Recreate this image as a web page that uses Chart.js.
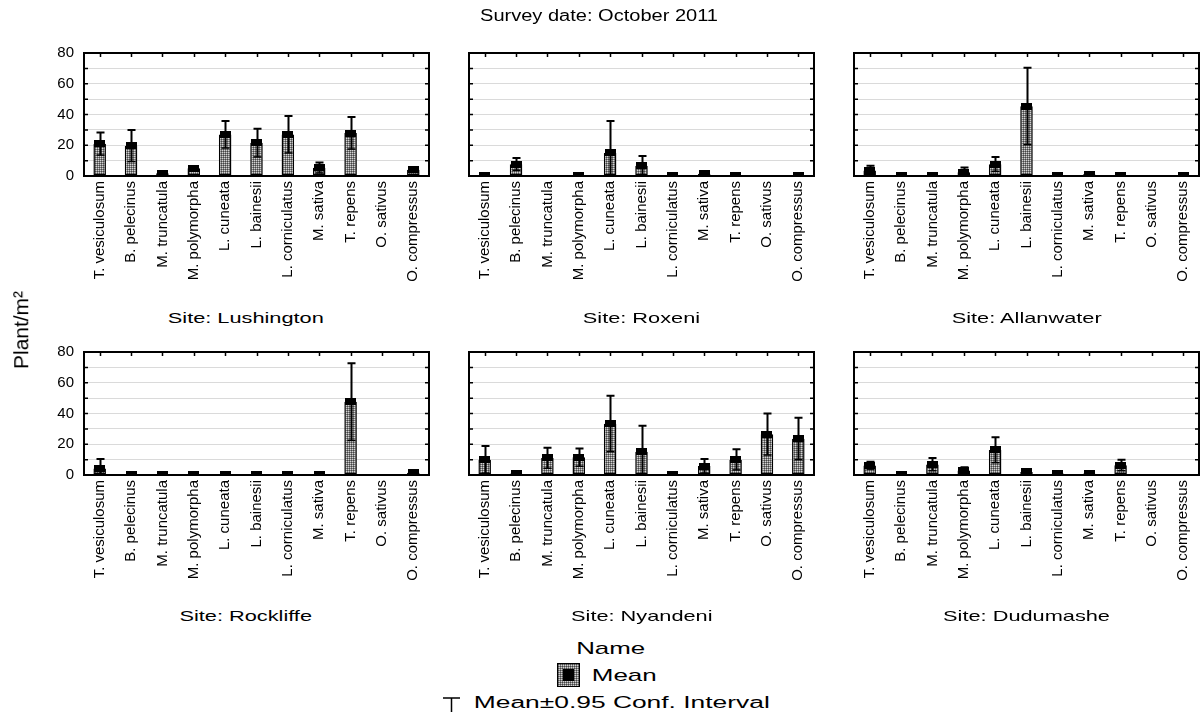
<!DOCTYPE html>
<html><head><meta charset="utf-8">
<script src="https://cdn.jsdelivr.net/npm/chart.js@4/dist/chart.umd.min.js"></script>
<style>
html,body{margin:0;padding:0;background:#fff;width:1200px;height:713px;overflow:hidden;position:relative;font-family:"Liberation Sans",Arial,sans-serif;color:#000}
canvas{position:absolute}
.t{position:absolute;white-space:nowrap;line-height:1;font-family:"Liberation Sans",Arial,sans-serif;color:#000}
</style></head><body>
<script>
// ---------- data ----------
const categories = ['T. vesiculosum','B. pelecinus','M. truncatula','M. polymorpha','L. cuneata','L. bainesii','L. corniculatus','M. sativa','T. repens','O. sativus','O. compressus'];
const siteNames = ['Lushington','Roxeni','Allanwater','Rockliffe','Nyandeni','Dudumashe'];
const yTickLabels = [0,20,40,60,80];

const meanLushington  = [21.0, 19.7, 1.8, 5.0, 27.0, 21.6, 27.0, 5.4, 27.9, null, 4.0];
const upperLushington = [28.3, 30.0, 2.6, 6.2, 35.8, 30.8, 39.0, 8.8, 38.3, null, 5.0];
const lowerLushington = [13.6,  9.4, 1.0, 3.8, 18.2, 12.4, 15.0, 2.0, 17.5, null, 3.0];

const meanRoxeni  = [0.5, 7.7, null, 0.5, 15.0, 6.7, 0.5, 1.5, 0.5, null, 0.5];
const upperRoxeni = [0.5, 11.7, null, 0.5, 35.8, 13.0, 0.5, 2.5, 0.5, null, 0.5];
const lowerRoxeni = [0.5, 3.7, null, 0.5, 0.0, 0.4, 0.5, 0.5, 0.5, null, 0.5];

const meanAllanwater  = [3.6, 0.5, 0.5, 2.5, 7.7, 45.4, 0.5, 1.2, 0.5, null, 0.5];
const upperAllanwater = [6.7, 0.5, 0.5, 5.6, 12.4, 70.4, 0.5, 2.0, 0.5, null, 0.5];
const lowerAllanwater = [0.5, 0.5, 0.5, 0.0, 3.0, 20.4, 0.5, 0.4, 0.5, null, 0.5];

const meanRockliffe  = [4.2, 0.5, 0.5, 0.5, 0.5, 0.5, 0.5, 0.5, 47.6, null, 1.5];
const upperRockliffe = [10.4, 0.5, 0.5, 0.5, 0.5, 0.5, 0.5, 0.5, 72.7, null, 2.0];
const lowerRockliffe = [0.0, 0.5, 0.5, 0.5, 0.5, 0.5, 0.5, 0.5, 22.5, null, 1.0];

const meanNyandeni  = [10.0, 1.0, 11.1, 11.5, 33.4, 15.2, 0.5, 5.8, 10.0, 26.5, 23.6];
const upperNyandeni = [18.8, 1.5, 17.8, 17.3, 51.6, 32.0, 1.0, 10.4, 16.7, 40.0, 37.2];
const lowerNyandeni = [1.2, 0.5, 4.4, 5.7, 15.2, 0.0, 0.0, 1.2, 3.3, 13.0, 10.0];

const meanDudumashe  = [6.2, 0.5, 6.9, 3.0, 16.3, 2.0, 1.0, 1.0, 6.4, null, null];
const upperDudumashe = [8.6, 0.5, 11.0, 5.0, 24.6, 2.5, 1.5, 1.5, 10.0, null, null];
const lowerDudumashe = [3.8, 0.5, 2.8, 1.0, 8.0, 1.5, 0.5, 0.5, 2.8, null, null];

const siteMeans  = [meanLushington, meanRoxeni, meanAllanwater, meanRockliffe, meanNyandeni, meanDudumashe];
const siteUppers = [upperLushington, upperRoxeni, upperAllanwater, upperRockliffe, upperNyandeni, upperDudumashe];
const siteLowers = [lowerLushington, lowerRoxeni, lowerAllanwater, lowerRockliffe, lowerNyandeni, lowerDudumashe];

// ---------- layout ----------
const FONT = '"Liberation Sans", Arial, sans-serif';
const PLOT_W = 345, PLOT_H = 128;
const colLeft = [84, 469, 854];
const rowTop = [48, 347];
const AX_W = 60, PAD_T = 14, PAD_R = 8, XL_H = 125;
const siteCenterX = [246, 641.5, 1027];
const siteCapY = [318.5, 616];

function makePattern(ctx){
  const c = document.createElement('canvas'); c.width = 4; c.height = 4;
  const x = c.getContext('2d');
  x.fillStyle = '#7e7e7e'; x.fillRect(0,0,4,4);
  x.fillStyle = '#d2d2d2'; x.fillRect(0,0,1,1); x.fillRect(2,2,1,1); x.fillRect(2,0,1,1); x.fillRect(0,2,1,1);
  x.fillStyle = '#444'; x.fillRect(1,1,1,1); x.fillRect(3,3,1,1); x.fillRect(3,1,1,1); x.fillRect(1,3,1,1);
  return ctx.createPattern(c, 'repeat');
}

function makeMarker(){
  const c = document.createElement('canvas'); c.width = 11; c.height = 7;
  const x = c.getContext('2d'); x.fillStyle = '#000'; x.fillRect(0,0,11,7);
  return c;
}

const errorBarPlugin = {
  id: 'errorBars',
  afterDatasetDraw(chart, args){
    if (args.meta.type !== 'bar') return;
    const o = chart.options.plugins.errorBars;
    const {ctx, chartArea: a, scales: {x, y}} = chart;
    ctx.save();
    ctx.beginPath(); ctx.rect(a.left, a.top, a.width, a.height); ctx.clip();
    ctx.strokeStyle = '#000'; ctx.lineWidth = 2;
    o.hi.forEach((h, i) => {
      if (h == null) return;
      const px = Math.round(x.getPixelForValue(i)) + 0.5;
      const yh = y.getPixelForValue(h), yl = y.getPixelForValue(o.lo[i]);
      ctx.beginPath();
      ctx.moveTo(px, yl); ctx.lineTo(px, yh);
      ctx.moveTo(px - 4, yh); ctx.lineTo(px + 4, yh);
      ctx.stroke();
      ctx.lineWidth = 1.5;
      ctx.beginPath(); ctx.moveTo(px - 4, yl); ctx.lineTo(px + 4, yl); ctx.stroke();
      ctx.lineWidth = 2;
    });
    ctx.restore();
  }
};

const framePlugin = {
  id: 'frame',
  afterDraw(chart){
    const {ctx, chartArea: a, scales: {x, y}} = chart;
    ctx.save();
    ctx.strokeStyle = '#000';
    ctx.lineWidth = 1.5;
    ctx.beginPath();
    categories.forEach((c, i) => {
      const px = Math.round(x.getPixelForValue(i)) + 0.5;
      ctx.moveTo(px, a.top); ctx.lineTo(px, a.top + 4);
    });
    y.ticks.forEach(t => {
      const py = y.getPixelForValue(t.value);
      ctx.moveTo(a.left, py); ctx.lineTo(a.left + 4, py);
      ctx.moveTo(a.right, py); ctx.lineTo(a.right - 4, py);
    });
    ctx.stroke();
    ctx.lineWidth = 2;
    ctx.strokeRect(a.left, a.top, a.width, a.height);
    ctx.restore();
  }
};

const marker = makeMarker();

siteNames.forEach((site, k) => {
  const col = k % 3, row = Math.floor(k / 3);
  const cv = document.createElement('canvas');
  const W = AX_W + PLOT_W + PAD_R, H = PAD_T + PLOT_H + XL_H;
  cv.width = W; cv.height = H;
  cv.style.left = (colLeft[col] - AX_W) + 'px';
  cv.style.top = (rowTop[row] - PAD_T) + 'px';
  cv.style.width = W + 'px'; cv.style.height = H + 'px';
  document.body.appendChild(cv);
  const ctx = cv.getContext('2d');
  const showY = col === 0;
  new Chart(ctx, {
    data: {
      labels: categories,
      datasets: [
        {type: 'bar', label: 'Mean', data: siteMeans[k], backgroundColor: makePattern(ctx),
         borderColor: '#000', borderWidth: 1.5, borderSkipped: false, barPercentage: 0.4,
         categoryPercentage: 1, order: 2},
        {type: 'line', label: 'Mean marker', data: siteMeans[k], showLine: false,
         pointStyle: marker, pointRadius: 6, pointHoverRadius: 6, order: 1}
      ]
    },
    options: {
      responsive: false, animation: false, devicePixelRatio: 1,
      layout: {padding: {top: PAD_T, right: PAD_R, left: 0, bottom: 0}},
      plugins: {legend: {display: false}, tooltip: {enabled: false},
        errorBars: {hi: siteUppers[k], lo: siteLowers[k]}},
      scales: {
        x: {type: 'category', offset: true,
            grid: {display: false, drawTicks: false}, border: {display: false},
            ticks: {autoSkip: false, maxRotation: 90, minRotation: 90, padding: 5, color: '#000',
                    font: {family: FONT, size: 15}},
            afterFit(s){ s.height = XL_H; }},
        y: {type: 'linear', min: 0, max: 80,
            grid: {color: '#dadada', lineWidth: 1, drawTicks: false}, border: {display: false},
            ticks: {stepSize: 10, autoSkip: false, padding: 10, color: '#000',
                    font: {family: FONT, size: 15},
                    callback: v => (showY && yTickLabels.includes(v)) ? String(v) : ''},
            afterFit(s){ s.width = AX_W; }}
      }
    },
    plugins: [errorBarPlugin, framePlugin]
  });
});

// ---------- text ----------
function addText(str, cx, capCy, size, targetW, rotate){
  const d = document.createElement('div');
  d.className = 't'; d.textContent = str; d.style.fontSize = size + 'px';
  document.body.appendChild(d);
  const w = d.getBoundingClientRect().width;
  const sx = targetW ? targetW / w : 1;
  d.style.left = (cx - w / 2) + 'px';
  d.style.top = (capCy - 0.55 * size) + 'px';
  d.style.transformOrigin = '50% 50%';
  d.style.transform = rotate ? `rotate(-90deg) scaleX(${sx})` : `scaleX(${sx})`;
  return sx;
}

addText('Survey date: October 2011', 599, 17, 16, 238);
addText('Plant/m²', 21, 331, 20, 78, true);
let siteScale = null;
siteNames.forEach((s, k) => {
  const col = k % 3, row = Math.floor(k / 3);
  const d = document.createElement('div');
  d.className = 't'; d.textContent = 'Site: ' + s; d.style.fontSize = '15px';
  document.body.appendChild(d);
  const w = d.getBoundingClientRect().width;
  if (siteScale === null) siteScale = 156 / w;
  d.style.left = (siteCenterX[col] - w / 2) + 'px';
  d.style.top = (siteCapY[row] - 0.55 * 15) + 'px';
  d.style.transform = `scaleX(${siteScale})`;
});
addText('Name', 611, 649, 17, 69);
addText('Mean', 624.5, 676, 17, 65);
addText('Mean±0.95 Conf. Interval', 622, 703.5, 16, 296);

// legend symbols
(function(){
  const c = document.createElement('canvas'); c.width = 23; c.height = 24;
  c.style.left = '557px'; c.style.top = '663px'; c.style.width = '23px'; c.style.height = '24px';
  document.body.appendChild(c);
  const x = c.getContext('2d');
  x.fillStyle = makePattern(x); x.fillRect(0, 0, 23, 24);
  x.strokeStyle = '#000'; x.lineWidth = 1; x.strokeRect(0.5, 0.5, 22, 23);
  x.fillStyle = '#000'; x.fillRect(6, 6, 11, 12);
  const s = document.createElement('canvas'); s.width = 24; s.height = 20;
  s.style.left = '440px'; s.style.top = '695px'; s.style.width = '24px'; s.style.height = '20px';
  document.body.appendChild(s);
  const y = s.getContext('2d');
  y.strokeStyle = '#000'; y.lineWidth = 1.5;
  y.beginPath(); y.moveTo(3, 3); y.lineTo(20, 3); y.moveTo(11.5, 3); y.lineTo(11.5, 17); y.stroke();
})();
</script>
</body></html>
